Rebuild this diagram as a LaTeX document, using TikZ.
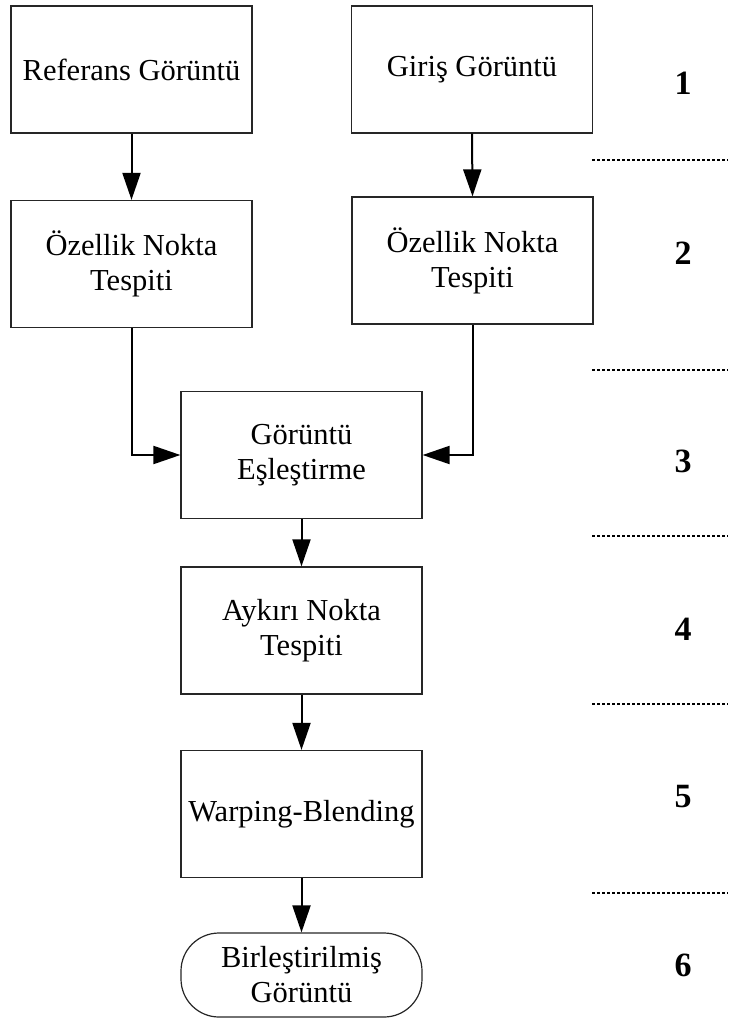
\documentclass[tikz,border=0pt]{standalone}
\usepackage{fontspec}
\setmainfont{Liberation Serif}
\usetikzlibrary{arrows.meta}
\begin{document}
\begin{tikzpicture}[x=1pt,y=-1pt,
  box/.style={draw=black!85, line width=1.2pt, rectangle, minimum width=241pt, minimum height=127pt, align=center, inner sep=0pt, font=\fontsize{30.5}{35}\selectfont},
  term/.style={box, rounded corners=38pt, minimum height=84pt},
  arr/.style={line width=2pt, -{Triangle[width=18pt,length=27pt]}},
  sep/.style={line width=1.6pt, dash pattern=on 3pt off 2pt},
  num/.style={font=\fontsize{34}{38}\selectfont\bfseries}
]
\useasboundingbox (0,0) rectangle (728,1019);
\node[box] (ref) at (131.5,69.5) {Referans Görüntü};
\node[box] (gir) at (472,69.5) {Giriş Görüntü};
\node[box] (ozl) at (131.5,264) {Özellik Nokta\\Tespiti};
\node[box] (ozr) at (472.5,260.5) {Özellik Nokta\\Tespiti};
\node[box] (esl) at (301.5,455) {Görüntü\\Eşleştirme};
\node[box] (ayk) at (301.5,630.5) {Aykırı Nokta\\Tespiti};
\node[box] (wrp) at (301.5,814) {Warping-Blending};
\node[term] (bir) at (301.5,975) {Birleştirilmiş\\Görüntü};

\draw[arr] (ref.south) -- (ozl.north);
\draw[arr] (gir.south) -- (ozr.north);
\draw[arr] (ozl.south) |- (esl.west);
\draw[arr] (ozr.south) |- (esl.east);
\draw[arr] (esl.south) -- (ayk.north);
\draw[arr] (ayk.south) -- (wrp.north);
\draw[arr] (wrp.south) -- (bir.north);

\node[num] (n1) at (683,83) {1};
\node[num] (n2) at (683,253) {2};
\node[num] (n3) at (683,461) {3};
\node[num] (n4) at (683,629) {4};
\node[num] (n5) at (683,797) {5};
\node[num] (n6) at (683,965) {6};

\foreach \yy in {160,370,536,704,893}
  \draw[sep] (592,\yy) -- (728,\yy);
\end{tikzpicture}
\end{document}
